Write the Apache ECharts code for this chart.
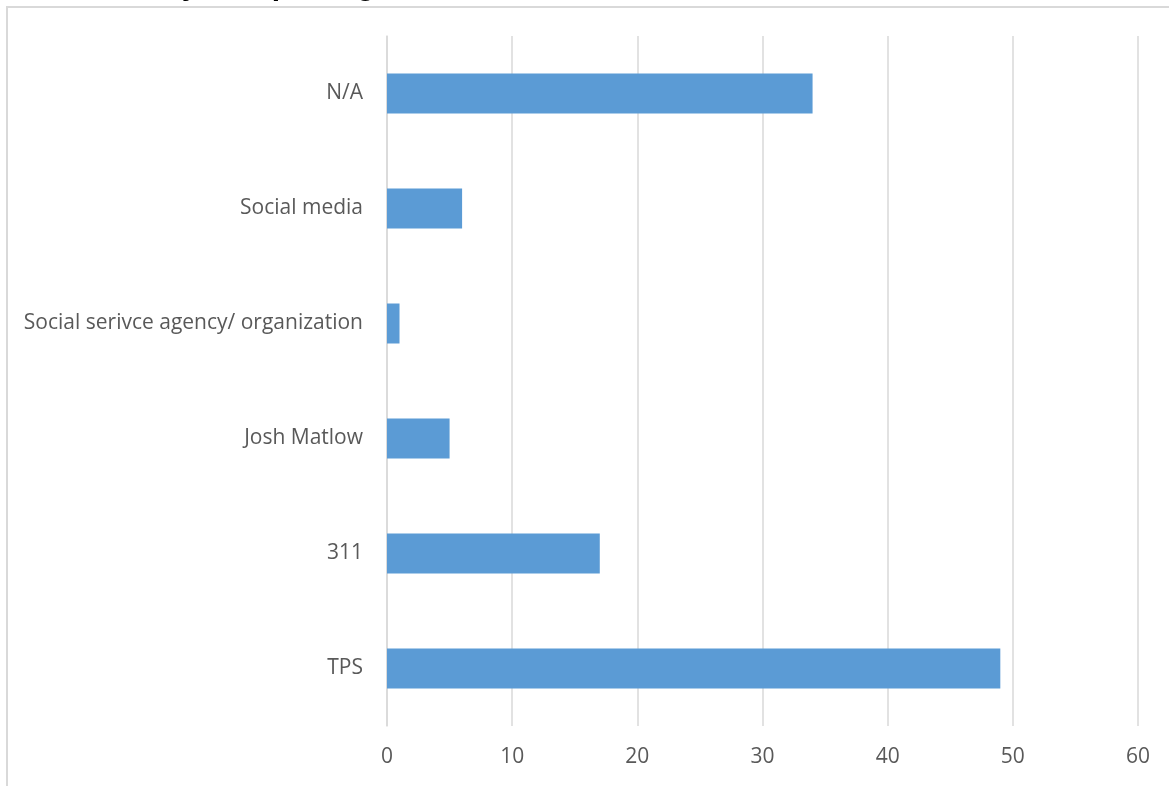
<!DOCTYPE html>
<html>
<head>
<meta charset="utf-8">
<script src="https://cdn.jsdelivr.net/npm/echarts@6/dist/echarts.min.js"></script>
<style>
html,body{margin:0;padding:0;background:#fff;}
#chart{width:1169px;height:786px;}
</style>
</head>
<body>
<div id="chart"></div>
<script>
var titleText = "Who are you reporting this to?";
var categories = ["TPS", "311", "Josh Matlow", "Social serivce agency/ organization", "Social media", "N/A"];
var values = [49, 17, 5, 1, 6, 34];
var xTicks = [0, 10, 20, 30, 40, 50, 60];

var chart = echarts.init(document.getElementById('chart'), null, {renderer: 'canvas'});
chart.setOption({
  animation: false,
  backgroundColor: '#ffffff',
  title: {
    text: titleText,
    left: 55,
    top: -28,
    padding: 0,
    textStyle: {fontFamily: 'Liberation Sans, Arial, sans-serif', fontWeight: 'bold', fontSize: 30, color: '#000000'}
  },
  graphic: [{
    type: 'rect', z: -1, silent: true,
    shape: {x: 7, y: 7, width: 1300, height: 900},
    style: {fill: 'none', stroke: '#d9d9d9', lineWidth: 2}
  }],
  grid: {left: 387, right: 31, top: 36, bottom: 60, containLabel: false},
  xAxis: {
    type: 'value', min: xTicks[0], max: xTicks[xTicks.length - 1], interval: 10,
    axisLine: {show: false}, axisTick: {show: false},
    splitLine: {show: true, lineStyle: {color: '#d9d9d9', width: 1.5}},
    axisLabel: {margin: 21, color: '#595959', fontSize: 21, fontFamily: 'Open Sans, sans-serif'}
  },
  yAxis: {
    type: 'category', data: categories,
    axisLine: {show: true, lineStyle: {color: '#d9d9d9', width: 1.5}},
    axisTick: {show: false},
    axisLabel: {margin: 24, color: '#595959', fontSize: 21, fontFamily: 'Open Sans, sans-serif'}
  },
  series: [{
    type: 'bar', data: values, barWidth: 40,
    itemStyle: {color: '#5b9bd5'}
  }]
});
</script>
</body>
</html>
